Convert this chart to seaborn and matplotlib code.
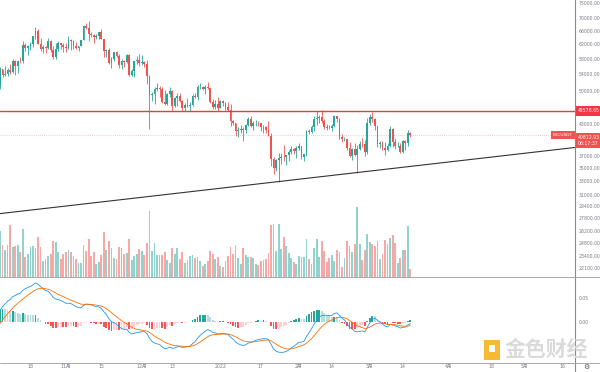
import numpy as np
import pandas as pd
import matplotlib
matplotlib.use("Agg")
import matplotlib.pyplot as plt
import matplotlib.transforms as mtransforms
from matplotlib.lines import Line2D
from matplotlib.patches import Rectangle
from matplotlib.ticker import FixedLocator, NullLocator, FuncFormatter
import seaborn as sns

sns.set_style("white")
plt.rcParams['font.family'] = ['DejaVu Sans', 'Noto Sans CJK SC']

# ---------------- data (BTCUSDT daily) ----------------
start_date = "2021-10-06"
open0 = 51470.0
close = [55320, 53790, 53950, 54960, 54660, 57470, 56000, 57370, 57350, 61670,
         60880, 61530, 62010, 64280, 66000, 62210, 60690, 61290, 60860, 63080,
         60330, 58450, 60590, 62270, 61890, 61320, 61000, 63230, 62940, 61440,
         61000, 61530, 63280, 67530, 66940, 64880, 64810, 64120, 64400, 65470,
         63610, 60060, 60340, 56890, 58050, 59710, 58620, 56250, 57270, 57130,
         58960, 53730, 54720, 57270, 57780, 56950, 57180, 56500, 53600, 49150,
         49400, 50440, 50590, 50470, 47550, 47140, 49390, 50050, 46700, 48340,
         48860, 47630, 46130, 46830, 46680, 46910, 48910, 48630, 50820, 50840,
         50430, 50800, 50700, 47540, 46460, 47120, 46220, 47720, 47290, 46450,
         45830, 43430, 43080, 41550, 41680, 41860, 41820, 42740, 43920, 42590,
         43100, 43180, 43110, 42250, 42370, 41660, 40680, 36450, 35070, 36280,
         36650, 36950, 36820, 37160, 37710, 38170, 37920, 38480, 38740, 36900,
         37330, 41570, 41380, 42410, 43840, 44040, 44380, 43510, 42390, 42210,
         42050, 42540, 44540, 43870, 40510, 39970, 40090, 38380, 37000, 38270,
         37250, 38330, 39210, 39110, 37700, 43190, 44420, 43920, 42450, 39150,
         39400, 38420, 38060, 38740, 41940, 39420, 38730, 38810, 37780, 39670,
         39280, 41110, 40812.93]
high = [55750, 55330, 56100, 55490, 56560, 57840, 57680, 57540, 58550, 62930,
        62350, 61720, 62700, 64490, 67000, 66640, 63730, 61750, 61490, 63710,
        63290, 61500, 62500, 62980, 62360, 62450, 62420, 64270, 63500, 63130,
        62600, 61580, 63290, 67790, 68530, 69000, 65600, 65000, 64970, 65500,
        66400, 63620, 60800, 60900, 58350, 59850, 60030, 59270, 57880, 57700,
        59400, 59170, 55280, 57440, 58860, 59250, 59040, 57380, 57600, 53900,
        49700, 50880, 51940, 51200, 50800, 50100, 49490, 50800, 50200, 48700,
        49500, 49440, 47990, 47310, 48300, 47540, 49330, 49570, 51380, 51860,
        51160, 51280, 52090, 50700, 48140, 47900, 48550, 47950, 47990, 47570,
        47500, 47070, 43750, 43140, 42300, 42790, 42250, 43000, 44350, 44460,
        43450, 43800, 43480, 43180, 42690, 42580, 43500, 41100, 36840, 36500,
        37550, 37550, 38920, 37230, 38000, 38720, 38360, 38740, 39270, 38850,
        37390, 41770, 41900, 42650, 44500, 45490, 44800, 45820, 43920, 43000,
        42750, 42870, 44770, 44580, 44170, 40950, 40480, 40140, 39480, 38430,
        39250, 39000, 39700, 40300, 39850, 44220, 44950, 45400, 44100, 42500,
        39600, 39690, 39550, 39360, 42600, 42050, 40240, 39490, 39310, 39950,
        39880, 41720, 41300]
low = [50380, 53360, 53620, 53660, 54090, 54420, 53880, 54250, 56820, 56850,
       60150, 58960, 60450, 61320, 63480, 62000, 60000, 59670, 59510, 60650,
       59820, 58000, 57820, 60170, 60720, 59950, 59700, 60620, 60380, 60680,
       60720, 60050, 61380, 63100, 66380, 62820, 64100, 62250, 63400, 63620,
       63400, 58570, 58370, 56480, 55600, 57420, 58470, 55610, 55300, 55840,
       57000, 53500, 53610, 53330, 56720, 56000, 56460, 55840, 51680, 42000,
       47730, 47100, 50040, 48600, 47320, 46850, 46750, 48640, 45670, 46400,
       46550, 47520, 45500, 45520, 46400, 45560, 46630, 48420, 47920, 50450,
       50180, 49400, 50460, 47300, 46100, 45900, 45680, 46200, 46650, 45700,
       45500, 42500, 42640, 40610, 40500, 41200, 39650, 41270, 42450, 42310,
       41720, 42600, 42580, 41540, 41250, 41140, 40550, 35440, 34010, 34600,
       32920, 35700, 36150, 35500, 36160, 37300, 37350, 36630, 38000, 36590,
       36250, 37050, 40980, 41120, 41650, 42670, 43120, 43190, 41950, 41750,
       41860, 41570, 42430, 43320, 40070, 39450, 39640, 38000, 36800, 36350,
       37050, 34320, 38010, 38580, 37020, 37450, 42800, 43350, 41830, 38600,
       38450, 38090, 37160, 37870, 38660, 38540, 38220, 38660, 37580, 37580,
       38110, 38850, 40500]
volume = [46, 32, 27, 32, 52, 30, 31, 32, 25, 48,
          20, 23, 30, 31, 29, 40, 30, 16, 18, 21,
          23, 36, 35, 25, 18, 23, 25, 27, 25, 21,
          18, 14, 14, 32, 26, 38, 21, 25, 13, 15,
          22, 45, 27, 36, 29, 19, 18, 30, 29, 23,
          24, 38, 17, 21, 23, 28, 26, 22, 34, 66,
          26, 34, 22, 22, 22, 25, 17, 14, 29, 23,
          29, 18, 25, 14, 17, 21, 22, 19, 20,
          16, 11, 13, 16, 26, 23, 18, 20,
          11, 10, 16, 21, 30, 23, 32, 19, 13, 29, 22, 20, 20, 19, 13, 12, 16, 17, 18, 24,
          52, 53, 26, 53, 28, 40, 31, 24, 19, 15, 13, 21, 20, 20,
          38, 18, 13, 29, 38, 20, 36,
          26, 15, 19, 22, 16, 27, 25, 10, 19, 36, 31, 25, 33,
          70, 33, 17, 27, 43, 35, 33, 31, 36, 18, 23, 37, 33, 39, 42, 34, 14, 19, 27, 27, 51, 8]
# closes before the visible window (scrolled off to the left), feed the MACD
warmup_close = [47020, 45940, 44700, 44800, 46720, 49330, 48870, 49280, 49520, 47680,
                48950, 46970, 49020, 48900, 48800, 46990, 47140,
                48810, 49250, 49940, 49920, 51790, 52700, 46860, 46050, 46400, 44850,
                45170, 46030, 44960, 47110, 48120, 47760, 47300, 48310, 47250, 43010,
                40690, 43570, 44890, 42840, 42720, 43210, 42200, 41030, 41520, 43790,
                48170, 47640, 48200, 49220, 51470]

resistance = 45578.65
trend_days = ["2022-01-24", "2022-02-24"]
trend_prices = [32920, 34320]
# 40000.00 sits under the current-price tag in the reference, so it is not shown
price_ticks = [75000, 70000, 66000, 62000, 58000, 54000, 50000, 46000, 43000,
               37000, 35000, 33000, 31000, 29400, 27800, 26200, 24800, 23400, 22100]
macd_ticks = [0.0, 0.05]
xtick_dates = ["2021-10-18", "2021-11-01", "2021-11-15", "2021-12-01", "2021-12-13",
               "2022-01-01", "2022-01-17", "2022-02-01", "2022-02-14", "2022-03-01",
               "2022-03-14", "2022-04-01", "2022-04-18", "2022-05-01", "2022-05-16"]
xtick_labels = ["18", "11月", "15", "12月", "13", "2022", "17", "2月", "14", "3月",
                "14", "4月", "18", "5月", "16"]
symbol = "BTCUSDT"
countdown = "06:17:37"

# ---------------- derived ----------------
UP, DOWN = "#26a69a", "#ef5350"
t0 = pd.Timestamp(start_date)
n = len(close)
x = np.arange(n)
opens = [open0] + close[:-1]
is_up = [c >= o for o, c in zip(opens, close)]
cols = [UP if u else DOWN for u in is_up]

allc = pd.Series(np.log(np.array(warmup_close + close, dtype=float)))
ema12 = allc.ewm(span=12, adjust=False).mean()
ema26 = allc.ewm(span=26, adjust=False).mean()
dif = ema12 - ema26
dea = dif.ewm(span=9, adjust=False).mean()
hist = (dif - dea)
k = len(warmup_close)
dif_v = dif.values[k:]
dea_v = dea.values[k:]
hist_all = hist.values
hist_v = hist_all[k:]
hcols = []
for i in range(n):
    h, p = hist_all[k + i], hist_all[k + i - 1]
    if h >= 0:
        hcols.append("#26A69A" if h > p else "#B2DFDB")
    else:
        hcols.append("#FF5252" if h < p else "#FFCDD2")

W, H = 600, 372
fig = plt.figure(figsize=(W / 100, H / 100), dpi=100)
fig.patch.set_facecolor("white")
axR = 575 / W
ax = fig.add_axes([0, 1 - 277 / H, axR, 277 / H])
axv = ax.twinx()
axm = fig.add_axes([0, 1 - 362 / H, axR, (362 - 277) / H])

XMAX = 575 / 2.533
for a in (ax, axv, axm):
    a.set_xlim(0, XMAX)
    for s in a.spines.values():
        s.set_visible(False)
    a.set_facecolor("none")

# volume (behind)
axv.bar(x, volume, width=0.7, color=cols, alpha=0.5, linewidth=0)
axv.set_ylim(0, 277)
axv.set_yticks([])
axv.set_zorder(0)
ax.set_zorder(1)

# candles
ax.set_yscale("log")
ax.set_ylim(21200, 76040)
ax.vlines(x, low, high, colors=cols, linewidth=0.6)
body_lo = [min(o, c) for o, c in zip(opens, close)]
body_h = [max(abs(c - o), 40) for o, c in zip(opens, close)]
ax.bar(x, body_h, bottom=body_lo, width=0.7, color=cols, linewidth=0)

# resistance & current price & trendline
ax.axhline(resistance, color="#f23645", lw=1.0)
ax.axhline(close[-1], color="#ef5350", lw=0.5, ls=(0, (1, 2)), alpha=0.6)
td = [(pd.Timestamp(d) - t0).days for d in trend_days]
slope = (np.log(trend_prices[1]) - np.log(trend_prices[0])) / (td[1] - td[0])
tx = np.array([-5, XMAX + 5])
ty = np.exp(np.log(trend_prices[0]) + slope * (tx - td[0]))
sns.lineplot(x=tx, y=ty, ax=ax, color="#333333", linewidth=0.8)

# price axis ticks
ax.yaxis.tick_right()
ax.yaxis.set_major_locator(FixedLocator(price_ticks))
ax.yaxis.set_minor_locator(NullLocator())
ax.yaxis.set_major_formatter(FuncFormatter(lambda v, p: f"{v:.2f}"))
ax.tick_params(axis="y", length=0, pad=2.5, labelsize=3.3, labelcolor="#787b86")
ax.set_xticks([])

# price labels on the axis
trans = mtransforms.blended_transform_factory(ax.transAxes, ax.transData)
ax.text(1.004, resistance, f"{resistance:.2f}", transform=trans, ha="left", va="center",
        fontsize=3.3, color="white", zorder=10, clip_on=False,
        bbox=dict(boxstyle="square,pad=0.45", fc="#f23645", ec="none"))
ax.text(1.004, close[-1], f"{close[-1]:.2f}\n{countdown}", transform=trans, ha="left",
        va="top", fontsize=3.3, color="white", zorder=10, clip_on=False, linespacing=1.25,
        bbox=dict(boxstyle="square,pad=0.45", fc="#ef5350", ec="none"))
ax.text(0.996, close[-1], symbol, transform=trans, ha="right", va="center",
        fontsize=3.2, color="white", zorder=10, clip_on=False,
        bbox=dict(boxstyle="square,pad=0.45", fc="#ef5350", ec="none"))

# MACD panel
axm.bar(x, hist_v, width=0.7, color=hcols, linewidth=0)
sns.lineplot(x=x, y=dif_v, ax=axm, color="#2196F3", linewidth=0.6)
sns.lineplot(x=x, y=dea_v, ax=axm, color="#FF6D00", linewidth=0.6)
axm.set_ylim(-0.083, 0.094)
axm.yaxis.tick_right()
axm.set_yticks(macd_ticks)
axm.yaxis.set_major_formatter(FuncFormatter(lambda v, p: f"{v:.2f}"))
axm.tick_params(axis="y", length=0, pad=2.5, labelsize=3.3, labelcolor="#787b86")
xt = [(pd.Timestamp(d) - t0).days for d in xtick_dates]
axm.set_xticks(xt)
axm.set_xticklabels(xtick_labels)
axm.tick_params(axis="x", length=0, pad=1.6, labelsize=3.3, labelcolor="#787b86")
axm.set_ylabel("")
ax.set_ylabel("")

# frame lines
fig.add_artist(Line2D([axR, axR], [0, 1], color="#8a8a8a", lw=0.8, transform=fig.transFigure))
fig.add_artist(Line2D([0, 1], [1 - 277 / H] * 2, color="#9a9a9a", lw=0.6, transform=fig.transFigure))
fig.add_artist(Line2D([0, 1], [1 - 362.5 / H] * 2, color="#9a9a9a", lw=0.6, transform=fig.transFigure))
fig.text(586 / W, 1 - 366.5 / H, "⚙", fontsize=5, color="#555555", ha="center", va="center")

# watermark
fig.add_artist(Rectangle((484 / W, 1 - 360 / H), 16 / W, 20 / H, transform=fig.transFigure,
                         fc="#f5b21b", ec="none", alpha=0.9))
fig.add_artist(Rectangle((489 / W, 1 - 352 / H), 6 / W, 7 / H, transform=fig.transFigure,
                         fc="white", ec="none"))
fig.text(505 / W, 1 - 349 / H, "金色财经", fontsize=15, color="#dadada",
         family=["Noto Sans CJK SC"], weight="bold", ha="left", va="center")

fig.savefig("out.png", dpi=100, facecolor="white")
